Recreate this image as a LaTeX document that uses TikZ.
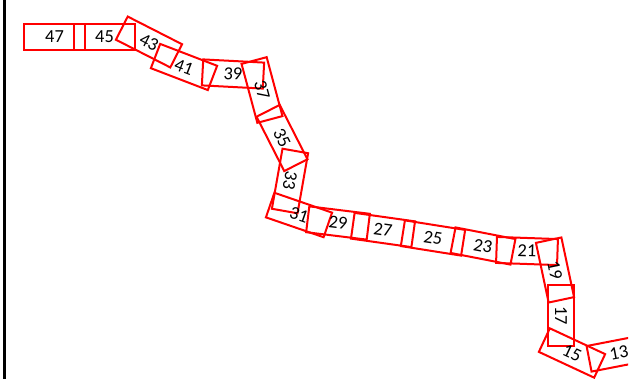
\documentclass[tikz,border=0pt]{standalone}
\usepackage{fontspec}
\setmainfont{Carlito}
\begin{document}
\begin{tikzpicture}[x=0.5pt,y=-0.5pt]
  \tikzset{link/.style={draw=red, line width=1pt, minimum width=30.5pt,
      minimum height=13pt, inner sep=0pt, font=\fontsize{9.2}{10}\selectfont}}
  \useasboundingbox (0,0) rectangle (636,383);
  \draw[line width=1.5pt] (4.5,0) -- (4.5,379);
  \begin{scope}
    \clip (0,0) rectangle (628,383);
    \foreach \n/\x/\y/\a in {47/54.5/37/0, 45/104.5/37/0, 43/149/42/-27,
        41/184/67/-21, 39/233/74/-3, 37/262/90/-75, 35/282/138/-63,
        33/290/181/-100, 31/299/215/-19, 29/338/223/-7, 27/383/230/-8,
        25/433/238/-9, 23/483/246/-11, 21/527/251/-2, 19/555/270/-78,
        17/561/316/-90, 15/572/353/-25, 13/619/353/11} {
      \node[link, rotate=\a] (s\n) at (\x,\y) {\n};
    }
  \end{scope}
\end{tikzpicture}
\end{document}
